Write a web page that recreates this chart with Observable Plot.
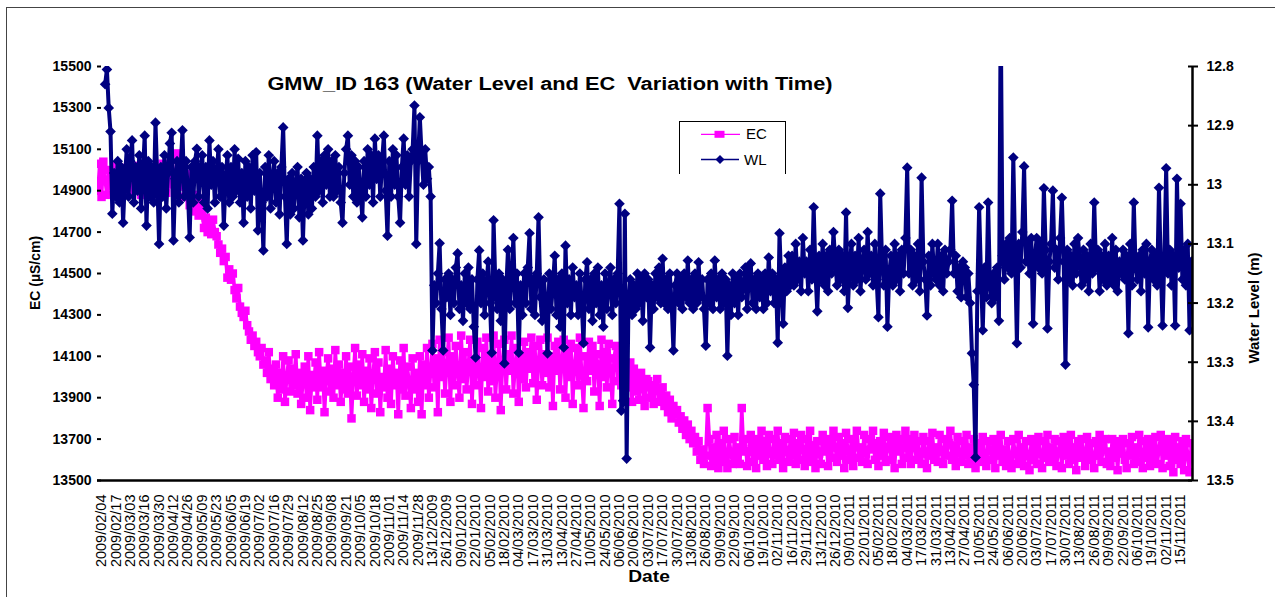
<!DOCTYPE html>
<html><head><meta charset="utf-8">
<script src="https://cdn.jsdelivr.net/npm/d3@7"></script>
<script src="https://cdn.jsdelivr.net/npm/@observablehq/plot@0.6"></script>
<style>
body{margin:0;background:#fff;font-family:"Liberation Sans",Arial,sans-serif;}
#wrap{position:relative;width:1275px;height:597px;overflow:hidden;}
.abs{position:absolute;white-space:pre;color:#000;}
</style></head><body>
<div id="wrap">
<div id="chart"></div>
<div class="abs" style="left:6px;top:7px;width:1300px;height:620px;border-left:1.5px solid #444;border-top:1.5px solid #444;"></div>
<div class="abs" style="left:550px;top:84px;transform:translate(-50%,-50%) scaleX(1.21);font-weight:bold;font-size:18px;">GMW_ID 163 (Water Level and EC  Variation with Time)</div>
<div class="abs" style="left:35px;top:273px;transform:translate(-50%,-50%) rotate(-90deg);font-weight:bold;font-size:14px;">EC (µS/cm)</div>
<div class="abs" style="left:1253px;top:308px;transform:translate(-50%,-50%) rotate(-90deg);font-weight:bold;font-size:15px;">Water Level (m)</div>
<div class="abs" style="left:649px;top:577px;transform:translate(-50%,-50%) scaleX(1.2);font-weight:bold;font-size:16px;">Date</div>
<div class="abs" style="left:679px;top:121px;width:105px;height:52px;border:1px solid #000;border-bottom:none;background:#fff;">
<svg width="105" height="52" style="position:absolute;left:0;top:0;font-family:'Liberation Sans',Arial,sans-serif;">
<line x1="21" x2="60" y1="12.3" y2="12.3" stroke="#ff00ff" stroke-width="1.3"/>
<rect x="34.5" y="8.8" width="10" height="7" fill="#ff00ff"/>
<text x="66" y="16.8" font-size="15">EC</text>
<line x1="21" x2="59" y1="37.5" y2="37.5" stroke="#000080" stroke-width="1.3"/>
<path d="M40,33 L44.5,37.5 L40,42 L35.5,37.5Z" fill="#000080"/>
<text x="64" y="42.5" font-size="15">WL</text>
</svg></div>
</div>
<script>
const dateLabels = ["2009/02/04","2009/02/17","2009/03/03","2009/03/16","2009/03/30","2009/04/12","2009/04/26","2009/05/09","2009/05/23","2009/06/05","2009/06/19","2009/07/02","2009/07/16","2009/07/29","2009/08/12","2009/08/25","2009/09/08","2009/09/21","2009/10/05","2009/10/18","2009/11/01","2009/11/14","2009/11/28","13/12/2009","26/12/2009","09/01/2010","22/01/2010","05/02/2010","18/02/2010","04/03/2010","17/03/2010","31/03/2010","13/04/2010","27/04/2010","10/05/2010","24/05/2010","06/06/2010","20/06/2010","03/07/2010","17/07/2010","30/07/2010","13/08/2010","26/08/2010","09/09/2010","22/09/2010","06/10/2010","19/10/2010","02/11/2010","16/11/2010","29/11/2010","13/12/2010","26/12/2010","09/01/2011","22/01/2011","05/02/2011","18/02/2011","04/03/2011","17/03/2011","31/03/2011","13/04/2011","27/04/2011","10/05/2011","24/05/2011","06/06/2011","20/06/2011","03/07/2011","17/07/2011","30/07/2011","13/08/2011","26/08/2011","09/09/2011","22/09/2011","06/10/2011","19/10/2011","02/11/2011","15/11/2011"];
const ecTicks = [13500,13700,13900,14100,14300,14500,14700,14900,15100,15300,15500];
const wlTicks = [12.8,12.9,13.0,13.1,13.2,13.3,13.4,13.5];

// Water level (m): 8 readings per date-label interval (2 leading readings)
const wl = [
null,null,
null,null,12.83,12.805,12.87,12.91,13.049,12.98,
13.02,12.96,13.03,12.97,13.064,12.99,12.94,13.02,
12.96,12.925,13.03,12.97,13.01,12.95,13.04,12.98,
12.917,13.069,12.96,13.02,12.97,13.03,12.895,12.99,
13.1,12.97,13.02,12.95,13.04,12.98,12.93,12.912,
13.094,12.99,12.96,13.03,12.97,12.908,13.02,12.96,
13.01,13.089,12.97,13.03,12.96,12.939,13.02,12.98,
12.95,13.03,12.97,13.04,12.925,13.0,12.96,13.03,
12.98,12.94,13.02,12.97,13.069,12.99,12.95,13.03,
12.97,13.02,12.94,13.01,12.956,13.03,12.98,13.064,
12.96,13.02,12.97,13.04,12.95,13.01,12.945,13.077,
12.98,13.03,13.111,12.97,13.02,12.95,13.04,12.99,
12.96,13.03,12.98,13.05,12.97,12.903,13.02,13.1,
12.99,13.05,12.98,13.04,13.0,12.97,13.055,12.99,
13.094,13.0,12.98,13.05,12.99,13.04,12.97,13.02,
12.917,13.01,12.96,13.03,12.95,13.0,12.94,13.02,
12.96,13.02,12.95,13.01,12.97,13.03,13.064,12.98,
12.94,12.917,13.0,12.95,13.02,12.96,13.03,12.97,
13.01,13.055,12.96,13.02,12.94,13.0,12.95,13.03,
12.922,12.99,12.95,13.02,12.96,12.917,13.01,13.086,
12.96,13.02,12.94,13.0,12.95,13.02,13.064,12.97,
12.922,13.0,12.95,13.02,12.96,12.94,12.866,13.1,
12.96,12.886,12.95,13.0,12.94,12.99,12.97,13.02,
13.28,13.17,13.2,13.15,13.099,13.21,13.28,13.16,
13.19,13.15,13.22,13.16,13.2,13.14,13.116,13.21,
13.17,13.23,13.15,13.2,13.14,13.21,13.16,13.24,
13.292,13.16,13.111,13.2,13.15,13.22,13.17,13.13,
13.2,13.284,13.06,13.17,13.21,13.15,13.23,13.16,
13.302,13.18,13.11,13.21,13.16,13.09,13.2,13.15,
13.284,13.17,13.22,13.15,13.2,13.14,13.082,13.21,
13.16,13.22,13.15,13.055,13.19,13.23,13.16,13.2,
13.285,13.15,13.21,13.17,13.12,13.22,13.16,13.24,
13.15,13.275,13.103,13.2,13.16,13.22,13.14,13.19,
13.17,13.22,13.15,13.2,13.268,13.16,13.131,13.21,
13.16,13.23,13.15,13.2,13.14,13.22,13.17,13.24,
13.15,13.21,13.17,13.14,13.22,13.16,13.2,13.15,
13.032,13.382,13.365,13.049,13.463,13.2,13.16,13.22,
13.17,13.21,13.15,13.2,13.16,13.23,13.15,13.19,
13.16,13.275,13.17,13.21,13.15,13.19,13.14,13.2,
13.125,13.2,13.16,13.21,13.15,13.2,13.28,13.17,
13.15,13.2,13.16,13.21,13.15,13.19,13.128,13.2,
13.16,13.21,13.15,13.2,13.131,13.19,13.16,13.21,
13.272,13.16,13.2,13.15,13.21,13.128,13.19,13.16,
13.21,13.15,13.2,13.16,13.289,13.17,13.22,13.15,
13.2,13.16,13.22,13.15,13.19,13.17,13.14,13.21,
13.15,13.133,13.2,13.16,13.21,13.15,13.19,13.16,
13.21,13.15,13.2,13.123,13.18,13.15,13.2,13.16,
13.267,13.082,13.17,13.235,13.14,13.18,13.12,13.17,
13.12,13.17,13.1,13.16,13.13,13.18,13.09,13.15,
13.13,13.18,13.11,13.16,13.038,13.15,13.214,13.12,
13.16,13.1,13.17,13.12,13.18,13.11,13.15,13.08,
13.13,13.17,13.11,13.16,13.12,13.18,13.047,13.208,
13.14,13.1,13.17,13.12,13.16,13.09,13.18,13.13,
13.11,13.16,13.08,13.15,13.12,13.17,13.1,13.16,
13.224,13.015,13.13,13.17,13.11,13.24,13.15,13.12,
13.17,13.1,13.16,13.12,13.18,13.11,13.15,13.09,
12.971,13.15,13.11,13.17,13.12,13.16,13.1,13.18,
12.988,13.13,13.16,13.221,13.12,13.17,13.1,13.15,
13.16,13.1,13.17,13.12,13.18,13.11,13.15,13.13,
13.11,13.027,13.15,13.12,13.18,13.14,13.19,13.13,
13.14,13.19,13.15,13.2,13.285,13.338,13.461,13.18,
13.038,13.15,13.246,13.14,13.19,13.03,13.17,13.2,
13.15,13.19,13.14,13.23,12.7,13.12,13.16,13.1,
13.14,13.09,13.15,12.954,13.12,13.268,13.1,13.14,
13.08,12.969,13.13,13.1,13.15,13.09,13.235,13.12,
13.09,13.14,13.1,13.15,13.006,13.11,13.243,13.13,
13.1,13.01,13.14,13.11,13.16,13.09,13.022,13.13,
13.304,13.11,13.16,13.12,13.17,13.1,13.15,13.09,
13.13,13.17,13.11,13.16,13.12,13.18,13.1,13.15,
13.03,13.14,13.11,13.18,13.12,13.16,13.1,13.17,
13.12,13.16,13.09,13.17,13.11,13.18,13.13,13.15,
13.11,13.16,13.12,13.251,13.1,13.17,13.03,13.14,
13.16,13.12,13.18,13.11,13.15,13.1,13.241,13.13,
13.11,13.16,13.12,13.17,13.005,13.14,13.238,13.12,
12.972,13.15,13.11,13.17,13.12,13.238,12.99,13.14,
13.032,13.16,13.11,13.17,13.1,13.246,13.13
];

// EC (µS/cm): 8 readings per date-label interval (2 leading readings)
const ec = [
14900,15030,
14870,15040,14950,14880,15000,14920,14980,14900,
15020,14940,14990,14880,14960,15010,14920,14970,
14900,14990,14940,15020,14910,14960,14880,14990,
14930,15010,14900,14970,14950,14890,15000,14940,
14980,14910,15030,14950,14890,14990,14930,15050,
14960,14890,15080,14970,14920,14990,14870,14950,
14900,14830,14980,14860,14800,14880,14780,14840,
14790,14720,14770,14700,14750,14690,14760,14700,
14680,14640,14600,14620,14560,14580,14480,14520,
14470,14500,14420,14380,14430,14340,14310,14290,
14320,14250,14220,14180,14200,14150,14170,14120,
14100,14140,14060,14080,14020,14120,13990,14040,
13960,14060,13900,14020,13940,14100,13880,14000,
14080,13930,14040,13960,14110,13920,14020,13870,
13980,14050,13900,14100,13840,14010,13950,14070,
13890,14120,13950,14030,13830,14000,14090,13930,
14040,13900,14130,13960,14060,13880,14020,13940,
14100,13920,14050,13800,14000,14140,13910,14060,
13960,14110,13880,14030,13940,14090,13850,14010,
14120,13920,14070,13830,14000,13950,14130,13900,
14040,13870,14100,13960,14020,13820,14080,13940,
14140,13910,14050,13980,13850,14090,13940,14020,
13880,14100,13820,14060,13960,14140,13900,14030,
14160,13950,14090,13830,14180,14000,14120,13920,
14060,14190,13880,14100,13960,14150,14020,13900,
14200,13990,14120,13940,14060,14180,13870,14080,
13960,14170,14030,13850,14140,14000,14190,13930,
14100,13980,14200,13900,14050,14160,13840,14080,
14180,13940,14110,14030,14200,13920,14060,14140,
13880,14100,13990,14170,13950,14120,14040,14190,
13970,14150,13890,14080,14180,13960,14110,14020,
14190,13950,14100,13860,14150,14030,14170,13940,
14080,14180,13900,14120,14000,14160,13870,14060,
14140,13960,14190,14010,13850,14100,13980,14170,
14030,14150,13930,14110,14060,13860,14180,14000,
14120,13950,14160,14040,13870,14090,14150,13980,
14110,13960,14080,13900,14050,13950,14070,13880,
14040,13930,14010,13890,14020,13950,13860,13990,
13980,13900,13960,13870,13940,13990,13880,13920,
13950,13860,13910,13830,13890,13800,13860,13820,
13840,13780,13810,13750,13790,13720,13770,13700,
13740,13680,13710,13640,13690,13600,13650,13580,
13620,13850,13700,13570,13660,13600,13720,13560,
13680,13590,13740,13620,13560,13700,13630,13580,
13710,13600,13660,13580,13850,13640,13700,13570,
13640,13720,13590,13680,13560,13700,13620,13740,
13600,13690,13570,13720,13630,13580,13700,13620,
13740,13600,13680,13560,13710,13640,13590,13700,
13620,13730,13580,13680,13600,13720,13650,13570,
13700,13610,13740,13590,13670,13560,13690,13630,
13580,13720,13640,13690,13570,13700,13610,13740,
13660,13590,13710,13620,13680,13560,13730,13640,
13600,13700,13570,13680,13740,13610,13660,13590,
13720,13630,13580,13700,13650,13740,13600,13680,
13570,13690,13620,13730,13590,13660,13710,13600,
13680,13560,13720,13640,13700,13580,13660,13740,
13610,13700,13580,13670,13720,13600,13690,13630,
13580,13710,13640,13560,13690,13620,13730,13600,
13660,13590,13720,13640,13580,13700,13620,13680,
13740,13600,13670,13570,13710,13630,13590,13690,
13620,13720,13580,13660,13600,13700,13560,13680,
13640,13590,13710,13620,13570,13690,13650,13600,
13700,13560,13680,13620,13720,13590,13650,13570,
13690,13610,13560,13700,13630,13580,13720,13600,
13660,13570,13690,13620,13550,13700,13600,13680,
13580,13710,13630,13560,13690,13610,13720,13590,
13660,13600,13700,13570,13640,13690,13560,13710,
13620,13680,13580,13720,13600,13660,13550,13690,
13610,13700,13640,13570,13710,13600,13680,13620,
13560,13690,13620,13720,13590,13660,13700,13580,
13640,13570,13700,13610,13680,13550,13690,13630,
13700,13600,13560,13680,13620,13710,13580,13660,
13590,13720,13630,13560,13690,13610,13700,13570,
13680,13600,13710,13580,13650,13720,13560,13690,
13620,13700,13570,13680,13540,13710,13600,13660,
13580,13690,13550,13700,13620,13540,13680
];

const xDomain = [-0.28, 75.83];
const ecDomain = [13500, 15500];
const wlDomain = [12.8, 13.5];
const wlToEc = w => ecDomain[1] - (w - wlDomain[0]) / (wlDomain[1] - wlDomain[0]) * (ecDomain[1] - ecDomain[0]);
const ecToWl = e => wlDomain[0] + (ecDomain[1] - e) / (ecDomain[1] - ecDomain[0]) * (wlDomain[1] - wlDomain[0]);
const pos = i => -0.25 + i * 0.125;
const ecData = ec.map((v, i) => ({u: pos(i), v}));
const wlData = wl.map((v, i) => ({u: pos(i), v: v == null ? null : wlToEc(v)}));
const wlTickPos = wlTicks.map(wlToEc);

const chart = Plot.plot({
  width: 1275, height: 597,
  marginLeft: 97, marginRight: 83, marginTop: 66, marginBottom: 117,
  style: {fontFamily: "'Liberation Sans', Arial, sans-serif", background: "transparent", color: "#000", overflow: "visible"},
  x: {domain: xDomain},
  y: {domain: ecDomain},
  marks: [
    Plot.line(ecData, {x: "u", y: "v", stroke: "#ff00ff", strokeWidth: 3.6, clip: true}),
    Plot.dot(ecData, {x: "u", y: "v", symbol: "square", r: 4.8, fill: "#ff00ff", clip: true}),
    Plot.line(wlData, {x: "u", y: "v", stroke: "#000080", strokeWidth: 4, clip: true}),
    Plot.dot(wlData, {x: "u", y: "v", symbol: "diamond2", r: 4.8, fill: "#000080", clip: true}),
    Plot.ruleY([ecDomain[0]], {stroke: "#000", strokeWidth: 2.5}),
    Plot.ruleX([xDomain[1]], {stroke: "#000", strokeWidth: 2.5}),
    Plot.axisX(d3.range(dateLabels.length), {tickSize: 0, tickPadding: 14, tickRotate: -90, tickFormat: i => dateLabels[i], fontSize: 14.5, label: null}),
    Plot.axisY(ecTicks, {anchor: "left", tickSize: 4, dx: 4, strokeWidth: 2, tickFormat: () => "", label: null}),
    Plot.axisY(ecTicks, {anchor: "left", tickSize: 0, tickPadding: 6, fontSize: 14, fontWeight: "bold", tickFormat: d => String(d), label: null}),
    Plot.axisY(wlTickPos, {anchor: "right", tickSize: 10, dx: -5, strokeWidth: 2, tickFormat: () => "", label: null}),
    Plot.axisY(wlTickPos, {anchor: "right", tickSize: 0, tickPadding: 14, fontSize: 14, fontWeight: "bold", tickFormat: d => String(+ecToWl(d).toFixed(1)), label: null})
  ]
});
document.getElementById("chart").appendChild(chart);
</script>
</body></html>
